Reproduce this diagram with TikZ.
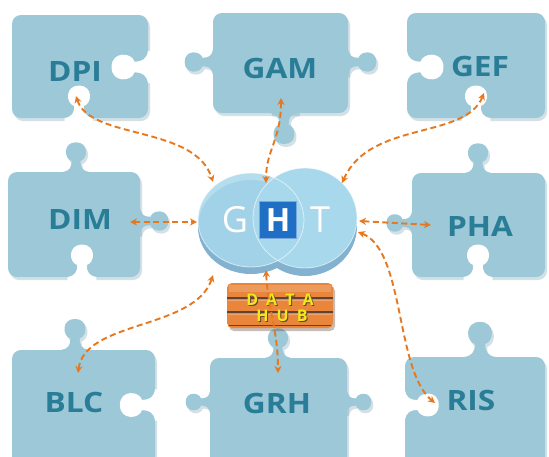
\documentclass[tikz,border=0pt]{standalone}
\usepackage{fontspec}
\setmainfont{Open Sans}
\usetikzlibrary{arrows.meta}
\definecolor{piecec}{HTML}{9CC8D8}
\definecolor{piecetxt}{HTML}{2A7D96}
\definecolor{shadowc}{HTML}{6F9DB0}
\definecolor{arrowc}{HTML}{E8781E}
\definecolor{facec}{HTML}{A8D8EC}
\definecolor{sidec}{HTML}{82B2D0}
\definecolor{hboxc}{HTML}{1F6FC4}
\definecolor{hubc}{HTML}{E9863C}
\definecolor{hubdark}{HTML}{5E4436}
\definecolor{hubtxt}{HTML}{F4E61A}
% knob: base at (#1,#2), rotated #3, scale #4, style #5
\newcommand{\knob}[5]{%
  \fill[#5,shift={(#1,#2)},rotate=#3,scale=#4]
    (-12,-5) -- (-12,0) .. controls (-6,1) and (-4,4) .. (-4,10)
    .. controls (-11,12) and (-12,27) .. (0,27)
    .. controls (12,27) and (11,12) .. (4,10)
    .. controls (4,4) and (6,1) .. (12,0) -- (12,-5) -- cycle;}
\newcommand{\bodyrect}[5]{\fill[#5,rounded corners=9pt] (#1,#2) rectangle (#3,#4);}
\tikzset{
  lbl/.style={text=piecetxt,font=\bfseries\fontsize{28}{28}\selectfont,inner sep=0pt,xscale=1.13},
  conn/.style={draw=arrowc,line width=1.9pt,dash pattern=on 6pt off 3.5pt,
    {Stealth[length=7pt,width=7pt]}-{Stealth[length=7pt,width=7pt]}},
  shad/.style={shadowc,opacity=0.3},
  hubfont/.style={font=\bfseries\fontsize{16}{16}\selectfont,inner sep=0pt},
}
\begin{document}
\begin{tikzpicture}[x=1pt,y=-1pt]
\useasboundingbox (0,0) rectangle (549,456);
\clip (0,0) rectangle (549,456);
\fill[white] (0,0) rectangle (549,456);

% ---------- DPI ----------
\begin{scope}[shift={(2,3)}]
  \bodyrect{12}{15}{148}{118}{shad}
\end{scope}
\bodyrect{12}{15}{148}{118}{piecec}
\knob{148}{67}{270}{1.35}{white}
\knob{79}{118}{180}{1.2}{white}
\node[lbl] (dpi) at (75,72) {DPI};

% ---------- GAM ----------
\begin{scope}[shift={(2,3)}]
  \bodyrect{213}{13}{348}{113}{shad}
  \knob{213}{62}{270}{1.05}{shad}
  \knob{348}{62}{90}{1.05}{shad}
  \knob{284}{113}{0}{1.15}{shad}
\end{scope}
\bodyrect{213}{13}{348}{113}{piecec}
\knob{213}{62}{270}{1.05}{piecec}
\knob{348}{62}{90}{1.05}{piecec}
\knob{284}{113}{0}{1.15}{piecec}
\node[lbl] (gam) at (280,68) {GAM};

% ---------- GEF ----------
\begin{scope}[shift={(2,3)}]
  \bodyrect{407}{13}{545}{118}{shad}
\end{scope}
\bodyrect{407}{13}{545}{118}{piecec}
\knob{407}{67}{90}{1.35}{white}
\knob{476}{118}{180}{1.2}{white}
\node[lbl] (gef) at (480,66) {GEF};

% ---------- DIM ----------
\begin{scope}[shift={(2,3)}]
  \bodyrect{8}{172}{140}{277}{shad}
  \knob{76}{172}{180}{1.1}{shad}
  \knob{140}{221}{90}{1.05}{shad}
\end{scope}
\bodyrect{8}{172}{140}{277}{piecec}
\knob{76}{172}{180}{1.1}{piecec}
\knob{140}{221}{90}{1.05}{piecec}
\knob{82}{277}{180}{1.2}{white}
\node[lbl] (dim) at (80,219) {DIM};

% ---------- PHA ----------
\begin{scope}[shift={(2,3)}]
  \bodyrect{412}{173}{545}{277}{shad}
  \knob{478}{173}{180}{1.1}{shad}
  \knob{412}{223}{270}{0.95}{shad}
\end{scope}
\bodyrect{412}{173}{545}{277}{piecec}
\knob{478}{173}{180}{1.1}{piecec}
\knob{412}{223}{270}{0.95}{piecec}
\knob{478}{277}{180}{1.2}{white}
\node[lbl] (pha) at (480,226) {PHA};

% ---------- BLC ----------
\begin{scope}[shift={(2,3)}]
  \bodyrect{12}{350}{155}{470}{shad}
  \knob{75}{350}{180}{1.15}{shad}
\end{scope}
\bodyrect{12}{350}{155}{470}{piecec}
\knob{75}{350}{180}{1.15}{piecec}
\knob{155}{405}{270}{1.3}{white}
\node[lbl] (blc) at (74,402) {BLC};

% ---------- GRH ----------
\begin{scope}[shift={(2,3)}]
  \bodyrect{210}{358}{347}{470}{shad}
  \knob{278}{358}{180}{1.1}{shad}
  \knob{210}{402}{270}{0.9}{shad}
  \knob{347}{402}{90}{0.9}{shad}
\end{scope}
\bodyrect{210}{358}{347}{470}{piecec}
\knob{278}{358}{180}{1.1}{piecec}
\knob{210}{402}{270}{0.9}{piecec}
\knob{347}{402}{90}{0.9}{piecec}
\node[lbl] (grh) at (277,403) {GRH};

% ---------- RIS ----------
\begin{scope}[shift={(2,3)}]
  \bodyrect{405}{357}{545}{470}{shad}
  \knob{480}{357}{180}{1.3}{shad}
\end{scope}
\bodyrect{405}{357}{545}{470}{piecec}
\knob{480}{357}{180}{1.3}{piecec}
\knob{405}{405}{90}{1.25}{white}
\node[lbl] (ris) at (471,400) {RIS};

% ---------- DATA HUB ----------
\fill[hubdark,opacity=0.35,rounded corners=5pt] (229,286) rectangle (335,331);
\fill[hubc,rounded corners=5pt] (227,283) rectangle (333,328);
\fill[white,opacity=0.18] (229,285) rectangle (331,292);
\draw[hubdark,line width=1.4pt] (227,298) -- (333,298);
\draw[hubdark,line width=1.4pt] (227,312) -- (333,312);
\draw[hubdark,line width=1pt] (229,325) -- (331,325);
\draw[white,opacity=0.25,line width=0.8pt] (228,300) -- (332,300);
\draw[white,opacity=0.25,line width=0.8pt] (228,314) -- (332,314);
\node[hubfont,text=hubdark] at (281,301) {D\hspace{8pt}A\hspace{8pt}T\hspace{8pt}A};
\node[hubfont,text=hubtxt] (hubA) at (280,300) {D\hspace{8pt}A\hspace{8pt}T\hspace{8pt}A};
\node[hubfont,text=hubdark] at (283,317) {H\hspace{8pt}U\hspace{8pt}B};
\node[hubfont,text=hubtxt] (hubB) at (282,316) {H\hspace{8pt}U\hspace{8pt}B};

% ---------- GHT discs ----------
\fill[sidec] (305,226) ellipse [x radius=52,y radius=50];
\fill[sidec] (251,227) ellipse [x radius=53,y radius=47];
\fill[facec] (305,218) ellipse [x radius=52,y radius=50];
\fill[facec,opacity=0.85] (251,220) ellipse [x radius=53,y radius=47];
\draw[white,opacity=0.6,line width=0.8pt] (305,218) ellipse [x radius=52,y radius=50];
\draw[white,opacity=0.6,line width=0.8pt] (251,220) ellipse [x radius=53,y radius=47];
\node[text=white,font=\fontsize{36}{36}\selectfont,inner sep=0pt] (gG) at (235,220) {G};
\node[text=white,font=\fontsize{36}{36}\selectfont,inner sep=0pt] (gT) at (320,220) {T};
\node[fill=hboxc,draw=hboxc!60!white,line width=1pt,minimum width=37pt,minimum height=37pt,inner sep=0pt,
      text=white,font=\bfseries\fontsize{32}{32}\selectfont] (gH) at (278,220) {H};

% ---------- connector end points ----------
\coordinate (dpiE) at (76,96);
\coordinate (ghtDPI) at (213,182);
\coordinate (gamE) at (281,98);
\coordinate (ghtGAM) at (266,183);
\coordinate (gefE) at (484,93);
\coordinate (ghtGEF) at (342,183);
\coordinate (dimE) at (130,222);
\coordinate (ghtDIM) at (197,222);
\coordinate (ghtPHA) at (359,221);
\coordinate (phaE) at (431,225);
\coordinate (ghtRIS) at (358,232);
\coordinate (risE) at (435,403);
\coordinate (blcE) at (78,373);
\coordinate (ghtBLC) at (213,275);
\coordinate (ghtGRH) at (266,270);
\coordinate (grhE) at (278,373);

\draw[conn] (dpiE) .. controls (90,140) and (195,125) .. (ghtDPI);
\draw[conn] (gamE) .. controls (281,140) and (266,150) .. (ghtGAM);
\draw[conn] (gefE) .. controls (465,140) and (370,120) .. (ghtGEF);
\draw[conn] (dimE) -- (ghtDIM);
\draw[conn] (ghtPHA) -- (phaE);
\draw[conn] (ghtRIS) .. controls (405,250) and (395,370) .. (risE);
\draw[conn] (blcE) .. controls (85,320) and (195,330) .. (ghtBLC);
\draw[conn] (ghtGRH) .. controls (268,310) and (278,330) .. (grhE);
\end{tikzpicture}
\end{document}
